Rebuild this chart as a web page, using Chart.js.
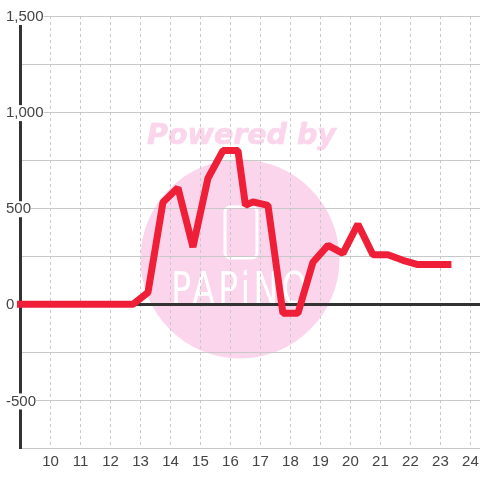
<!DOCTYPE html>
<html>
<head>
<meta charset="utf-8">
<style>
  html, body { margin: 0; padding: 0; background: #fff; }
  #wrap { width: 480px; height: 480px; }
</style>
<script src="https://cdn.jsdelivr.net/npm/chart.js@4/dist/chart.umd.min.js"></script>
</head>
<body>
<div id="wrap"><canvas id="lineChart"></canvas></div>
<script>
const hours = [8.75, 9.25, 9.75, 10.25, 10.75, 11.25, 11.75, 12.25, 12.75, 13.25, 13.75, 14.25, 14.75, 15.25, 15.75, 16.25, 16.5, 16.75, 17.25, 17.75, 18.25, 18.75, 19.25, 19.75, 20.25, 20.75, 21.25, 21.75, 22.25, 22.75, 23.25];
const values = [0, 0, 0, 0, 0, 0, 0, 0, 0, 62, 531, 606, 298, 656, 800, 800, 515, 533, 515, -47, -47, 219, 307, 265, 417, 258, 258, 229, 207, 207, 207];
const yLabels = [-500, 0, 500, 1000, 1500];

const GRID = '#c8c8c8';
const INK = '#444444';

// Watermark behind the grid
const watermark = {
  id: 'watermark',
  beforeDraw(chart) {
    const c = chart.ctx;
    c.save();
    c.fillStyle = '#fbd5ec';
    c.beginPath();
    c.arc(240, 259, 99.5, 0, Math.PI * 2);
    c.fill();

    c.font = 'italic bold 28.5px "DejaVu Sans"';
    c.textAlign = 'center';
    c.textBaseline = 'alphabetic';
    c.strokeStyle = '#fbd5ec';
    c.lineWidth = 0.7;
    c.fillText('Powered by', 241.5, 144);
    c.strokeText('Powered by', 241.5, 144);

    c.strokeStyle = '#ffffff';
    c.lineWidth = 3;
    c.beginPath();
    c.roundRect(225, 207, 32, 51, 5);
    c.stroke();

    c.fillStyle = '#ffffff';
    c.font = '44px "DejaVu Sans"';
    c.letterSpacing = '4.5px';
    c.translate(241, 304);
    c.scale(0.75, 1);
    c.fillText('PAPiNO', 0, 0);
    c.restore();
  }
};

new Chart(document.getElementById('lineChart').getContext('2d'), {
  type: 'line',
  data: {
    datasets: [{
      data: hours.map((h, i) => ({ x: h, y: values[i] })),
      borderColor: '#f01f38',
      borderWidth: 7,
      borderJoinStyle: 'bevel',
      borderCapStyle: 'square',
      pointRadius: 0,
      tension: 0,
      clip: { left: 3.5, top: 4, right: 0, bottom: 0 }
    }]
  },
  options: {
    responsive: true,
    maintainAspectRatio: false,
    animation: false,
    layout: { padding: { left: 20.5, top: 16, right: 0, bottom: 0 } },
    plugins: { legend: { display: false }, tooltip: { enabled: false } },
    scales: {
      x: {
        type: 'linear',
        min: 9,
        max: 24.32,
        afterFit(s) {
          s.height = 31.5;
          s.paddingLeft = 0;
          s.paddingRight = 0;
        },
        grid: { color: GRID, drawTicks: false },
        border: { display: false, dash: [3, 3] },
        ticks: {
          stepSize: 1,
          includeBounds: false,
          autoSkip: false,
          maxRotation: 0,
          padding: 4,
          color: INK,
          font: { family: '"Liberation Sans"', size: 15 },
          callback: v => (v >= 10 && v <= 24 ? String(v) : '')
        }
      },
      y: {
        min: -750,
        max: 1500,
        // negative tick padding would otherwise give the axis a negative width
        afterFit(s) {
          s.width = 0;
          s.paddingTop = 0;
          s.paddingBottom = 0;
        },
        grid: {
          drawTicks: false,
          color: ctx => (ctx.tick.value === 0 ? '#333333' : GRID),
          lineWidth: ctx => (ctx.tick.value === 0 ? 3 : 1)
        },
        border: { color: '#333333', width: 3 },
        ticks: {
          stepSize: 250,
          mirror: true,
          padding: -14.5,
          labelOffset: 1,
          color: INK,
          font: { family: '"Liberation Sans"', size: 15 },
          showLabelBackdrop: ctx => ctx.tick.value !== 0 && yLabels.includes(ctx.tick.value),
          backdropColor: '#ffffff',
          backdropPadding: { top: -1, bottom: -1, left: 0, right: 0 },
          callback: v => (yLabels.includes(v) ? v.toLocaleString('en-US') : '')
        }
      }
    }
  },
  plugins: [watermark]
});
</script>
</body>
</html>
